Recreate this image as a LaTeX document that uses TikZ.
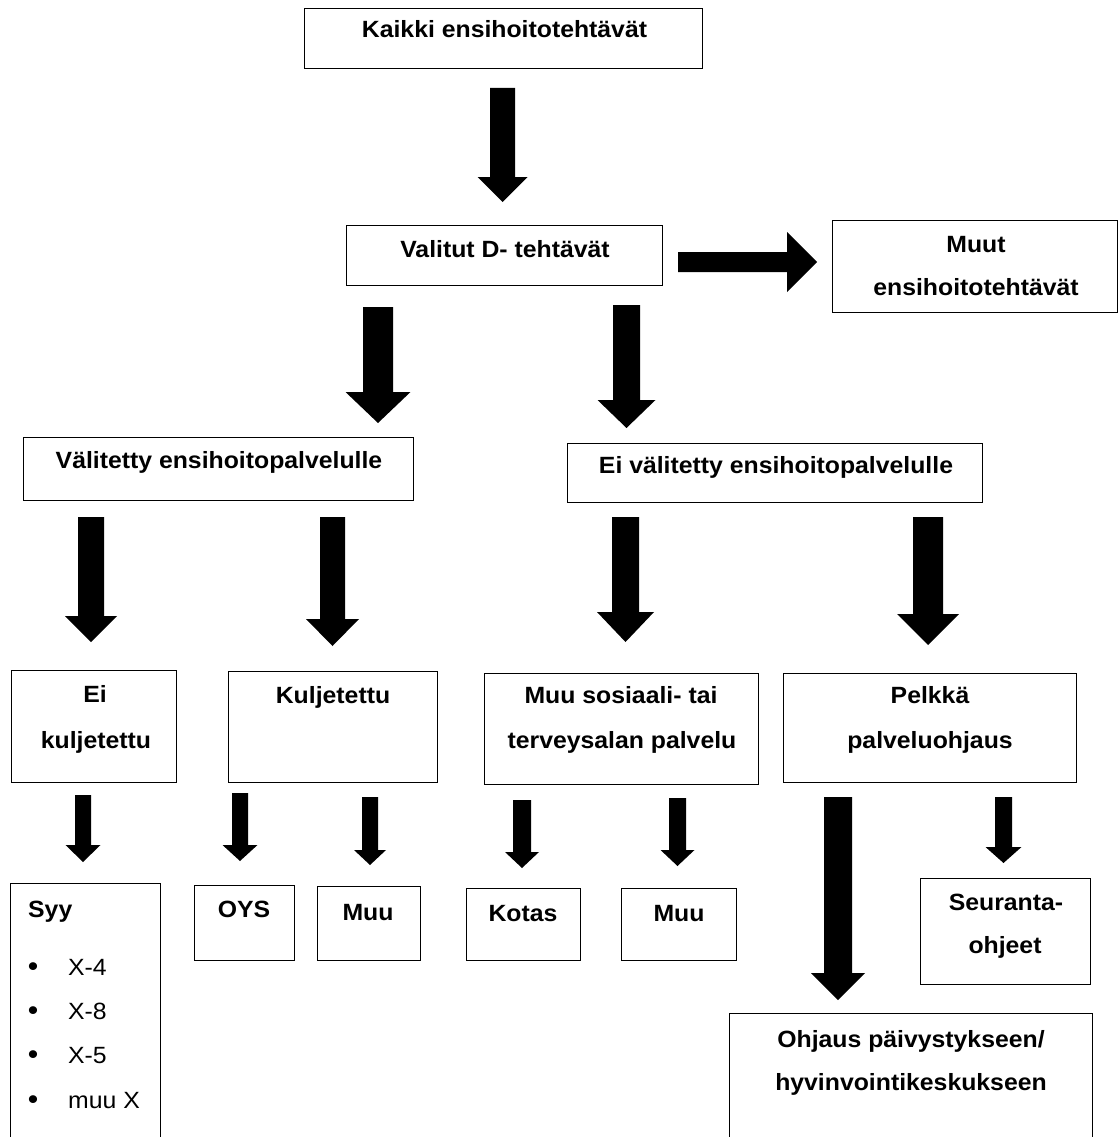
\documentclass[tikz,border=0pt]{standalone}
\usepackage{fontspec}
\setmainfont{Liberation Sans}[FakeStretch=1.055]
\usetikzlibrary{calc}
\tikzset{
  box/.style={draw=black, line width=1.4pt, rectangle, inner sep=0pt, fill=none},
  lbl/.style={anchor=base, inner sep=0pt, font=\fontsize{23.5}{28}\selectfont\bfseries},
  plain/.style={anchor=base west, inner sep=0pt, font=\fontsize{23.5}{28}\selectfont},
  bul/.style={anchor=base, inner sep=0pt, font=\fontsize{27}{30}\selectfont\bfseries},
  arrowfill/.style={fill=black},
}
% #1 name, #2 left, #3 top, #4 right, #5 bottom
\newcommand\mybox[5]{\node[box, anchor=north west, minimum width={#4-#2}, minimum height={#5-#3}] (#1) at (#2,#3) {};}
% block arrow: #1 start, #2 tip, #3 shaft half width, #4 head half width, #5 head length
\newcommand\barrow[5]{%
  \path ($(#2)!#5pt!(#1)$) coordinate (hb);
  \fill[arrowfill] ($(#1)!#3pt!90:(#2)$) -- ($(hb)!#3pt!90:(#2)$) -- ($(hb)!#4pt!90:(#2)$) -- (#2)
    -- ($(hb)!#4pt!-90:(#2)$) -- ($(hb)!#3pt!-90:(#2)$) -- ($(#1)!#3pt!-90:(#2)$) -- cycle;}
\begin{document}
\begin{tikzpicture}[x=1pt,y=-1pt]
\useasboundingbox[fill=white] (0,0) rectangle (1118,1137);

% boxes
\mybox{kaikki}{304}{8}{702}{68}
\mybox{valitut}{346}{225}{662}{285}
\mybox{muut}{832}{220}{1117}{312}
\mybox{valitetty}{23}{437}{413}{500}
\mybox{eivalitetty}{567}{443}{982}{502}
\mybox{eikulj}{11}{670}{176}{782}
\mybox{kulj}{228}{671}{437}{782}
\mybox{muusos}{484}{673}{758}{784}
\mybox{pelkka}{783}{673}{1076}{782}
\mybox{syy}{10}{883}{160}{1150}
\mybox{oys}{194}{885}{294}{960}
\mybox{muua}{317}{886}{420}{960}
\mybox{kotas}{466}{888}{580}{960}
\mybox{muub}{621}{888}{736}{960}
\mybox{seuranta}{920}{878}{1090}{984}
\mybox{ohjaus}{729}{1013}{1092}{1150}

% texts
\node[lbl] (t1) at (504.5,38) {Kaikki ensihoitotehtävät};
\node[lbl] (t2) at (505,257) {Valitut D- tehtävät};
\node[lbl] (t3a) at (976,252) {Muut};
\node[lbl] (t3b) at (976,295) {ensihoitotehtävät};
\node[lbl] (t4) at (219,468) {Välitetty ensihoitopalvelulle};
\node[lbl] (t5) at (776,473) {Ei välitetty ensihoitopalvelulle};
\node[lbl] (t6a) at (95,702) {Ei};
\node[lbl] (t6b) at (96,748) {kuljetettu};
\node[lbl] (t7) at (333,703) {Kuljetettu};
\node[lbl] (t8a) at (621,703) {Muu sosiaali- tai};
\node[lbl] (t8b) at (622,748) {terveysalan palvelu};
\node[lbl] (t9a) at (930,703) {Pelkkä};
\node[lbl] (t9b) at (930,748) {palveluohjaus};
\node[lbl, anchor=base west] (t10) at (28,917) {Syy};
\node[bul] (b1) at (33,975) {•};
\node[plain] (x1) at (68,975) {X-4};
\node[bul] (b2) at (33,1019) {•};
\node[plain] (x2) at (68,1019) {X-8};
\node[bul] (b3) at (33,1063) {•};
\node[plain] (x3) at (68,1063) {X-5};
\node[bul] (b4) at (33,1108) {•};
\node[plain] (x4) at (68,1108) {muu X};
\node[lbl] (t11) at (244,917) {OYS};
\node[lbl] (t12) at (368,920) {Muu};
\node[lbl] (t13) at (523,921) {Kotas};
\node[lbl] (t14) at (679,921) {Muu};
\node[lbl] (t15a) at (1006,910) {Seuranta-};
\node[lbl] (t15b) at (1005,953) {ohjeet};
\node[lbl] (t16a) at (911,1047) {Ohjaus päivystykseen/};
\node[lbl] (t16b) at (911,1090) {hyvinvointikeskukseen};

% arrow end points
\coordinate (a1s) at (502.5,88);  \coordinate (a1e) at (502.5,202);
\coordinate (a2s) at (678,262);   \coordinate (a2e) at (817,262);
\coordinate (a3s) at (378,307);   \coordinate (a3e) at (378,423);
\coordinate (a4s) at (626.5,305); \coordinate (a4e) at (626.5,428);
\coordinate (a5s) at (91,517);    \coordinate (a5e) at (91,642);
\coordinate (a6s) at (332.5,517); \coordinate (a6e) at (332.5,646);
\coordinate (a7s) at (625.5,517); \coordinate (a7e) at (625.5,642);
\coordinate (a8s) at (928,517);   \coordinate (a8e) at (928,645);
\coordinate (a9s) at (83,795);    \coordinate (a9e) at (83,862);
\coordinate (a10s) at (240,793);  \coordinate (a10e) at (240,861);
\coordinate (a11s) at (370,797);  \coordinate (a11e) at (370,865);
\coordinate (a12s) at (522,800);  \coordinate (a12e) at (522,868);
\coordinate (a13s) at (677.5,798);\coordinate (a13e) at (677.5,866);
\coordinate (a14s) at (838,797);  \coordinate (a14e) at (838,1000);
\coordinate (a15s) at (1003.5,797);\coordinate (a15e) at (1003.5,863);

% block arrows
\barrow{a1s}{a1e}{12.5}{25}{25}
\barrow{a2s}{a2e}{10}{30}{30}
\barrow{a3s}{a3e}{15}{32.5}{31}
\barrow{a4s}{a4e}{13.5}{29}{28}
\barrow{a5s}{a5e}{13}{26}{26}
\barrow{a6s}{a6e}{12.5}{26.5}{27}
\barrow{a7s}{a7e}{13.5}{28.5}{30}
\barrow{a8s}{a8e}{15}{31}{31}
\barrow{a9s}{a9e}{8}{17.5}{17}
\barrow{a10s}{a10e}{8}{17.5}{16}
\barrow{a11s}{a11e}{8}{16}{15}
\barrow{a12s}{a12e}{9}{17}{16}
\barrow{a13s}{a13e}{8.5}{17}{16}
\barrow{a14s}{a14e}{14}{27}{27}
\barrow{a15s}{a15e}{8.5}{18}{16}
\end{tikzpicture}
\end{document}
